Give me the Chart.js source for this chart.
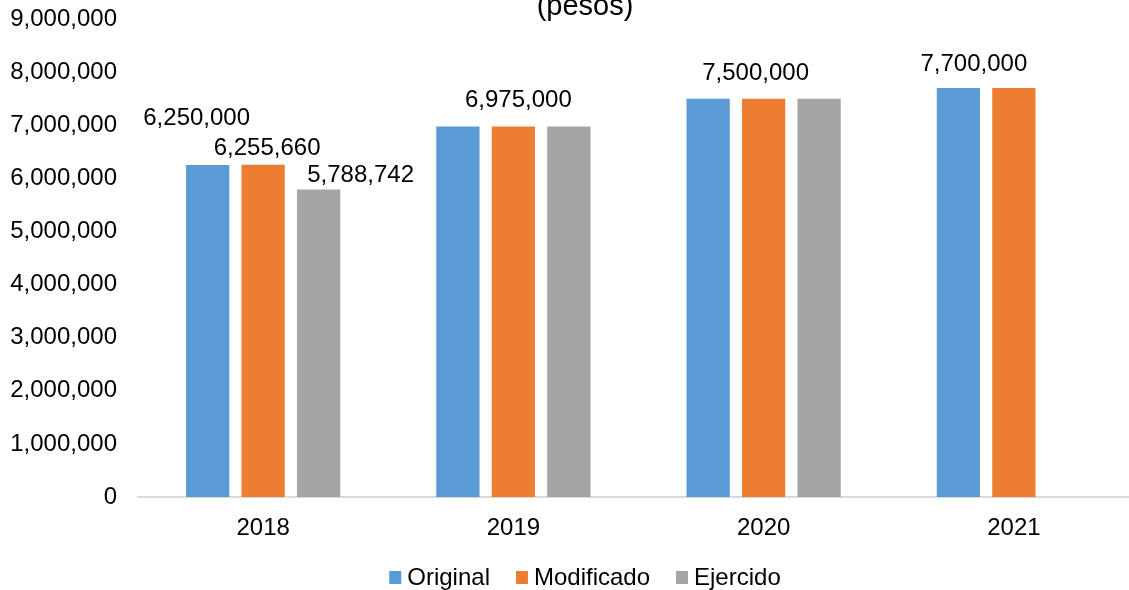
<!DOCTYPE html>
<html>
<head>
<meta charset="utf-8">
<script src="https://cdn.jsdelivr.net/npm/chart.js@4/dist/chart.umd.min.js"></script>
<style>
  html, body { margin: 0; padding: 0; background: #fff; overflow: hidden; }
  #wrap { width: 1129px; height: 590px; overflow: hidden; position: relative; }
  canvas { position: absolute; left: 0; top: 0; }
</style>
</head>
<body>
<div id="wrap"><canvas id="c" width="1170" height="590"></canvas></div>
<script>
// Presupuesto por año (pesos)
const years = ['2018', '2019', '2020', '2021'];
const original = [6250000, 6975000, 7500000, 7700000];
const modificado = [6255660, 6975000, 7500000, 7700000];
const ejercido = [5788742, 6975000, 7500000, null];
const seriesNames = ['Original', 'Modificado', 'Ejercido'];
const yTicks = [0, 1000000, 2000000, 3000000, 4000000, 5000000, 6000000, 7000000, 8000000, 9000000];

const colors = ['#5B9BD5', '#ED7D31', '#A5A5A5'];
const FONT = '"Liberation Sans", Arial, sans-serif';
const fmt = v => v.toLocaleString('en-US');

// Which value labels are shown, and where they sit relative to their bar top
const labelSpots = [
  { ds: 0, i: 0, dx: -11, dy: 47 },
  { ds: 1, i: 0, dx: 4, dy: 16 },
  { ds: 2, i: 0, dx: 42, dy: 14.5 },
  { ds: 1, i: 1, dx: 5, dy: 26.5 },
  { ds: 1, i: 2, dx: -8, dy: 25.5 },
  { ds: 1, i: 3, dx: -40, dy: 24 }
];

const decor = {
  id: 'decor',
  afterDatasetsDraw(chart) {
    const ctx = chart.ctx;
    ctx.save();
    ctx.fillStyle = '#000';
    // value labels
    ctx.font = '24px ' + FONT;
    ctx.textAlign = 'center';
    ctx.textBaseline = 'middle';
    labelSpots.forEach(s => {
      const bar = chart.getDatasetMeta(s.ds).data[s.i];
      const v = chart.data.datasets[s.ds].data[s.i];
      ctx.fillText(fmt(v), bar.x + s.dx, bar.y - s.dy);
    });
    // title
    ctx.font = '29px ' + FONT;
    ctx.textBaseline = 'alphabetic';
    ctx.fillText('(pesos)', chart.width / 2, 15);
    // legend
    ctx.font = '24px ' + FONT;
    ctx.textAlign = 'left';
    ctx.textBaseline = 'middle';
    const box = 12, gapText = 6, gapItem = 26, cy = 577;
    const widths = seriesNames.map(n => box + gapText + ctx.measureText(n).width);
    const total = widths.reduce((a, b) => a + b, 0) + gapItem * (seriesNames.length - 1);
    let x = chart.width / 2 - total / 2;
    seriesNames.forEach((n, k) => {
      ctx.fillStyle = colors[k];
      ctx.fillRect(x, cy - box / 2, box, box + 1);
      ctx.fillStyle = '#000';
      ctx.fillText(n, x + box + gapText, cy + 1);
      x += widths[k] + gapItem;
    });
    ctx.restore();
  }
};

new Chart(document.getElementById('c'), {
  type: 'bar',
  data: {
    labels: years,
    datasets: [
      { label: seriesNames[0], data: original, backgroundColor: colors[0] },
      { label: seriesNames[1], data: modificado, backgroundColor: colors[1] },
      { label: seriesNames[2], data: ejercido, backgroundColor: colors[2] }
    ]
  },
  options: {
    responsive: false,
    animation: false,
    devicePixelRatio: 1,
    layout: { padding: { top: 19, right: 31, bottom: 33, left: 0 } },
    datasets: { bar: { categoryPercentage: 0.665, barPercentage: 0.78 } },
    plugins: { legend: { display: false }, title: { display: false }, tooltip: { enabled: false } },
    scales: {
      x: {
        grid: { display: false, drawTicks: false },
        border: { display: true, color: '#D9D9D9', width: 2 },
        ticks: { color: '#000', font: { family: FONT, size: 24 }, padding: 17, maxRotation: 0 },
        afterFit: s => { s.height = 60; s.paddingLeft = 0; s.paddingRight = 0; }
      },
      y: {
        min: 0,
        max: 9000000,
        grid: { display: false, drawTicks: false },
        border: { display: false },
        afterBuildTicks: s => { s.ticks = yTicks.map(v => ({ value: v })); },
        ticks: { color: '#000', font: { family: FONT, size: 24 }, padding: 21, callback: v => fmt(v) },
        afterFit: s => { s.width = 138; s.paddingTop = 0; s.paddingBottom = 0; }
      }
    }
  },
  plugins: [decor]
});
</script>
</body>
</html>
